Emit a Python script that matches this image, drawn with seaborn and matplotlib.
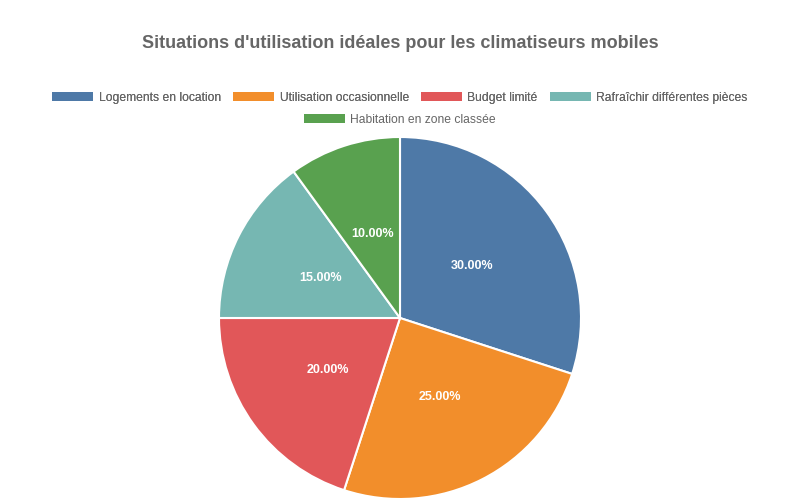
import matplotlib
matplotlib.use("Agg")
import matplotlib.pyplot as plt
from matplotlib.patches import Patch
import seaborn as sns

# Données du graphique
situations = ["Logements en location", "Utilisation occasionnelle", "Budget limité",
              "Rafraîchir différentes pièces", "Habitation en zone classée"]
parts = [30, 25, 20, 15, 10]
couleurs = ["#4e79a7", "#f28e2b", "#e15759", "#76b7b2", "#59a14f"]

sns.set_theme(style="white")
plt.rcParams['font.family'] = ['Liberation Sans', 'DejaVu Sans']

fig = plt.figure(figsize=(8, 5), dpi=100)
ax = fig.add_axes([0.27375, 0.002, 0.4525, 0.724])

wedges, textes, pcts = ax.pie(
    parts,
    colors=sns.color_palette(couleurs),
    startangle=90,
    counterclock=False,
    autopct='%.2f%%',
    pctdistance=0.49,
    wedgeprops={'edgecolor': 'white', 'linewidth': 1.5},
    textprops={'color': 'white', 'fontsize': 9, 'fontweight': 'bold'},
)
ax.set_xlim(-1.0, 1.0)
ax.set_ylim(-1.0, 1.0)
ax.set_aspect('equal')

fig.suptitle("Situations d'utilisation idéales pour les climatiseurs mobiles",
             x=0.5, y=0.93, fontsize=13, fontweight='bold', color='#666666')

poignees = [Patch(facecolor=c, edgecolor='none') for c in couleurs]
style_leg = dict(frameon=False, fontsize=8.7, handlelength=3.4, handleheight=0.8,
                 handletextpad=0.45, columnspacing=1.0, labelcolor='#666666',
                 borderpad=0, borderaxespad=0)
leg1 = fig.legend(poignees[:4], situations[:4], ncol=4, loc='center',
                  bbox_to_anchor=(0.5, 0.804), **style_leg)
fig.add_artist(leg1)
fig.legend(poignees[4:], situations[4:], ncol=1, loc='center',
           bbox_to_anchor=(0.5, 0.760), **style_leg)

fig.savefig("out.png", dpi=100)
